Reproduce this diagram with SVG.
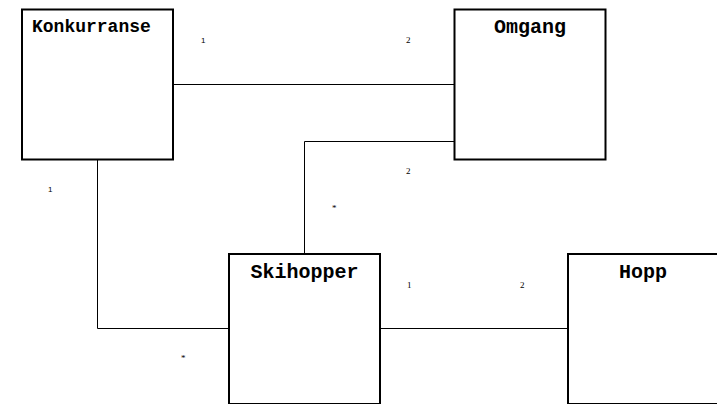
<svg xmlns="http://www.w3.org/2000/svg" width="717" height="404" viewBox="0 0 717 404">
<style>
.box{fill:#fff;stroke:#000;stroke-width:2}
.title{font-family:"Liberation Mono","Courier New",monospace;font-weight:bold;font-size:20px;fill:#000}
.conn{fill:none;stroke:#000;stroke-width:1}
.lbl{font-family:"Liberation Serif","Times New Roman",serif;font-size:9px;fill:#000}
.lbls{font-family:"Liberation Sans",Arial,sans-serif;font-size:8px;fill:#000}
</style>
<rect width="717" height="404" fill="#fff"/>
<g id="connectors">
<path class="conn" d="M173 84.5H454"/>
<path class="conn" d="M454 141.5H304.5V254"/>
<path class="conn" d="M97.5 160V328.5H229"/>
<path class="conn" d="M380 328.5H568"/>
</g>
<g id="labels">
<text class="lbls" x="201" y="43">1</text>
<text class="lbl" x="406" y="43">2</text>
<text class="lbl" x="406" y="174">2</text>
<text class="lbl" x="332" y="211">*</text>
<text class="lbls" x="48" y="192">1</text>
<text class="lbl" x="181" y="361">*</text>
<text class="lbl" x="407" y="288">1</text>
<text class="lbl" x="520" y="288">2</text>
</g>
<g id="Konkurranse">
<rect class="box" x="22" y="9.5" width="151" height="150"/>
<text class="title" x="32" y="31.5" style="font-size:18px">Konkurranse</text>
</g>
<g id="Omgang">
<rect class="box" x="454.5" y="9.5" width="151" height="150"/>
<text class="title" x="530" y="33" text-anchor="middle">Omgang</text>
</g>
<g id="Skihopper">
<rect class="box" x="229" y="254" width="151" height="150"/>
<text class="title" x="304.5" y="278" text-anchor="middle">Skihopper</text>
</g>
<g id="Hopp">
<rect class="box" x="568" y="254" width="151" height="150"/>
<text class="title" x="643" y="278" text-anchor="middle">Hopp</text>
</g>
</svg>
